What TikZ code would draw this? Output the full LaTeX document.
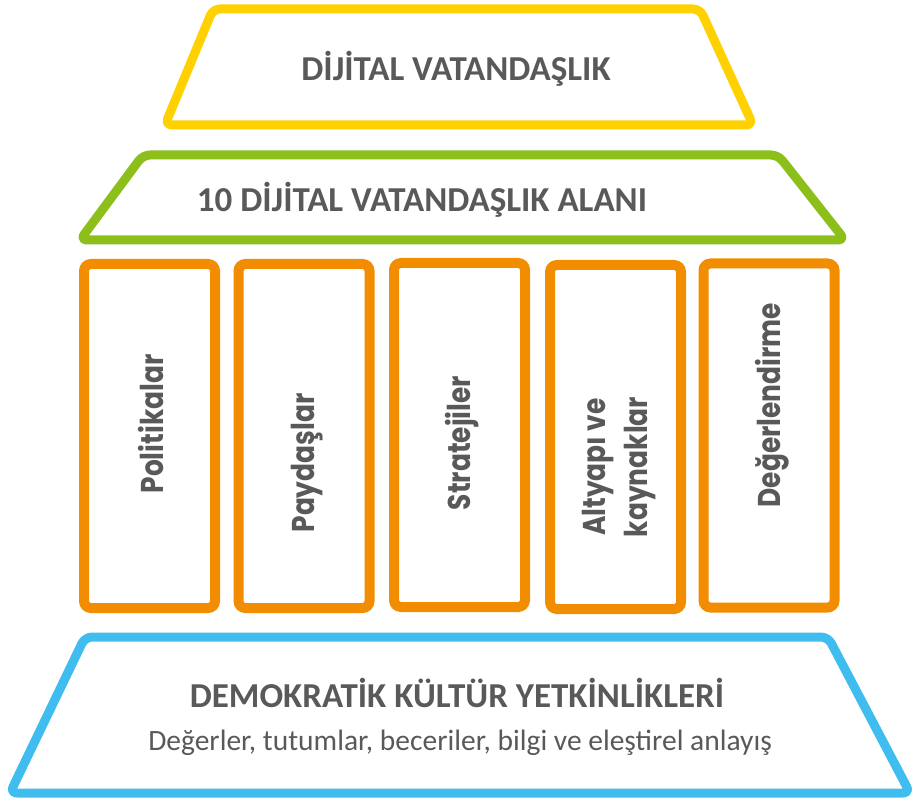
\documentclass[tikz,border=0pt]{standalone}
\usepackage{fontspec}
\setmainfont{Carlito}
\newfontfamily\pillarfont{Poppins}[FakeStretch=0.84]
\usetikzlibrary{positioning}

\definecolor{dvyellow}{HTML}{FFD100}
\definecolor{dvgreen}{HTML}{8DBF1B}
\definecolor{dvorange}{HTML}{F28C00}
\definecolor{dvblue}{HTML}{40BDEF}
\definecolor{dvgray}{HTML}{595959}

\begin{document}
\begin{tikzpicture}[
		x=1pt, y=-1pt
		,layer/.style={line width=9pt, rounded corners=7pt, line join=round}
		,pillar/.style={draw=dvorange, line width=10pt, rounded corners=7pt, minimum width=131pt, minimum height=344pt, inner sep=0pt}
		,heading/.style={text=dvgray, font=\bfseries\fontsize{35}{40}\selectfont}
		,pillartext/.style={text=dvgray, rotate=90, font=\pillarfont\bfseries\fontsize{31.5}{37}\selectfont, align=center, inner sep=0pt}
	]
		\useasboundingbox (0,0) rectangle (915,802);

		% top: yellow
		\draw[layer, draw=dvyellow] (213,9) -- (700,9) -- (753,125) -- (165,125) -- cycle;
		\node[heading] (dv) at (456,69) {DİJİTAL VATANDAŞLIK};

		% green
		\draw[layer, draw=dvgreen] (143,155) -- (778,155) -- (845,240) -- (80,240) -- cycle;
		\node[heading] (alan) at (422,200) {10 DİJİTAL VATANDAŞLIK ALANI};

		% pillars
		\node[pillar] (pol) at (149.5,436) {};
		\node[pillar] (pay) at (304,436) {};
		\node[pillar] (str) at (459.5,435) {};
		\node[pillar] (alt) at (615.5,437) {};
		\node[pillar] (deg) at (769,435.5) {};

		\node[pillartext] (polt) at (151,424) {Politikalar};
		\node[pillartext] (payt) at (307,463) {Paydaşlar};
		\node[pillartext] (strt) at (462,443) {Stratejiler};
		\node[pillartext] (altt) at (619,467) {Altyapı ve\\[5pt]kaynaklar};
		\node[pillartext] (degt) at (772,405) {Değerlendirme};

		% bottom: blue
		\draw[layer, draw=dvblue] (85,637) -- (828,637) -- (910,793) -- (10,793) -- cycle;
		\node[heading] (dkc) at (457,693) {DEMOKRATİK KÜLTÜR YETKİNLİKLERİ};
		\node[text=dvgray, font=\fontsize{29.5}{34}\selectfont] (dkcsub) at (460,743) {Değerler, tutumlar, beceriler, bilgi ve eleştirel anlayış};
	\end{tikzpicture}
\end{document}
